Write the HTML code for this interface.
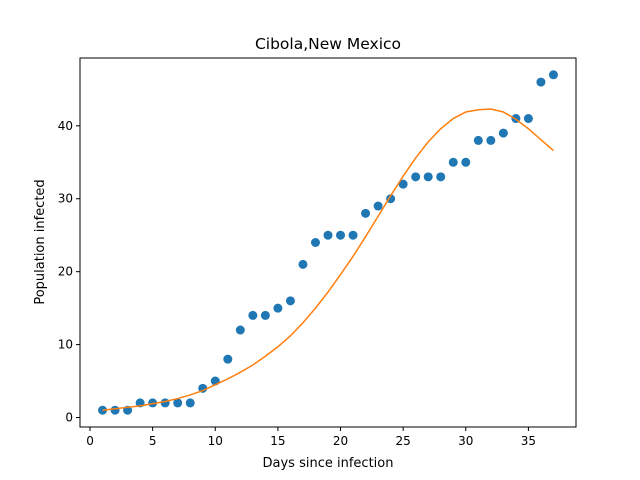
<!DOCTYPE html>
<html><head><meta charset="utf-8"><style>
body{margin:0;background:#fff}
svg{display:block;font-family:"DejaVu Sans","Liberation Sans",sans-serif}
</style></head><body>
<svg id="chart" width="640" height="480">
<rect width="640" height="480" fill="#fff"/>
<text x="328" y="49" text-anchor="middle" font-size="15.5">Cibola,New Mexico</text>
<text x="328" y="467" text-anchor="middle" font-size="13">Days since infection</text>
<text transform="translate(44,242) rotate(-90)" text-anchor="middle" font-size="13">Population infected</text>
<g id="plot"></g>
<rect x="80" y="58" width="496" height="369" fill="none" stroke="#000" stroke-width="1"/>
</svg>
<script>
const days=[1,2,3,4,5,6,7,8,9,10,11,12,13,14,15,16,17,18,19,20,21,22,23,24,25,26,27,28,29,30,31,32,33,34,35,36,37];
const observed=[1,1,1,2,2,2,2,2,4,5,8,12,14,14,15,16,21,24,25,25,25,28,29,30,32,33,33,33,35,35,38,38,39,41,41,46,47];
const fitted=[1.0,1.2,1.4,1.6,1.9,2.2,2.6,3.1,3.7,4.5,5.3,6.2,7.2,8.4,9.7,11.2,13,15,17.2,19.6,22.1,24.8,27.6,30.4,33.1,35.6,37.8,39.6,41,41.9,42.2,42.3,41.9,40.9,39.6,38.1,36.6];
const xTicks=[0,5,10,15,20,25,30,35];
const yTicks=[0,10,20,30,40];
const X0=80,X1=576,Y0=427,Y1=58,xmin=-0.8,xmax=38.8,ymin=-1.3,ymax=49.3;
const sx=v=>X0+(v-xmin)/(xmax-xmin)*(X1-X0);
const sy=v=>Y0-(v-ymin)/(ymax-ymin)*(Y0-Y1);
const ns="http://www.w3.org/2000/svg";
const g=document.getElementById('plot');
function mk(t,a){const e=document.createElementNS(ns,t);for(const k in a)e.setAttribute(k,a[k]);g.appendChild(e);return e;}
xTicks.forEach(t=>{
  const l=mk('line',{x1:sx(t),x2:sx(t),y1:Y0,y2:Y0+4,stroke:'#000'});
  
  
  const tx=mk('text',{x:sx(t),y:Y0+18,'text-anchor':'middle','font-size':12});
  tx.textContent=t;
  
  
});
yTicks.forEach(t=>{
  const l=mk('line',{x1:X0-4,x2:X0,y1:sy(t),y2:sy(t),stroke:'#000'});
  
  
  const tx=mk('text',{x:X0-7,y:sy(t)+4,'text-anchor':'end','font-size':12});
  tx.textContent=t;
  
  
});
days.forEach((d,i)=>{
  const c=mk('circle',{cx:sx(d),cy:sy(observed[i]),r:4.5,fill:'#1f77b4'});
  
  
});
const p=mk('polyline',{points:days.map((d,i)=>sx(d)+','+sy(fitted[i])).join(' '),fill:'none',stroke:'#ff7f0e','stroke-width':1.5});


</script>
</body></html>
